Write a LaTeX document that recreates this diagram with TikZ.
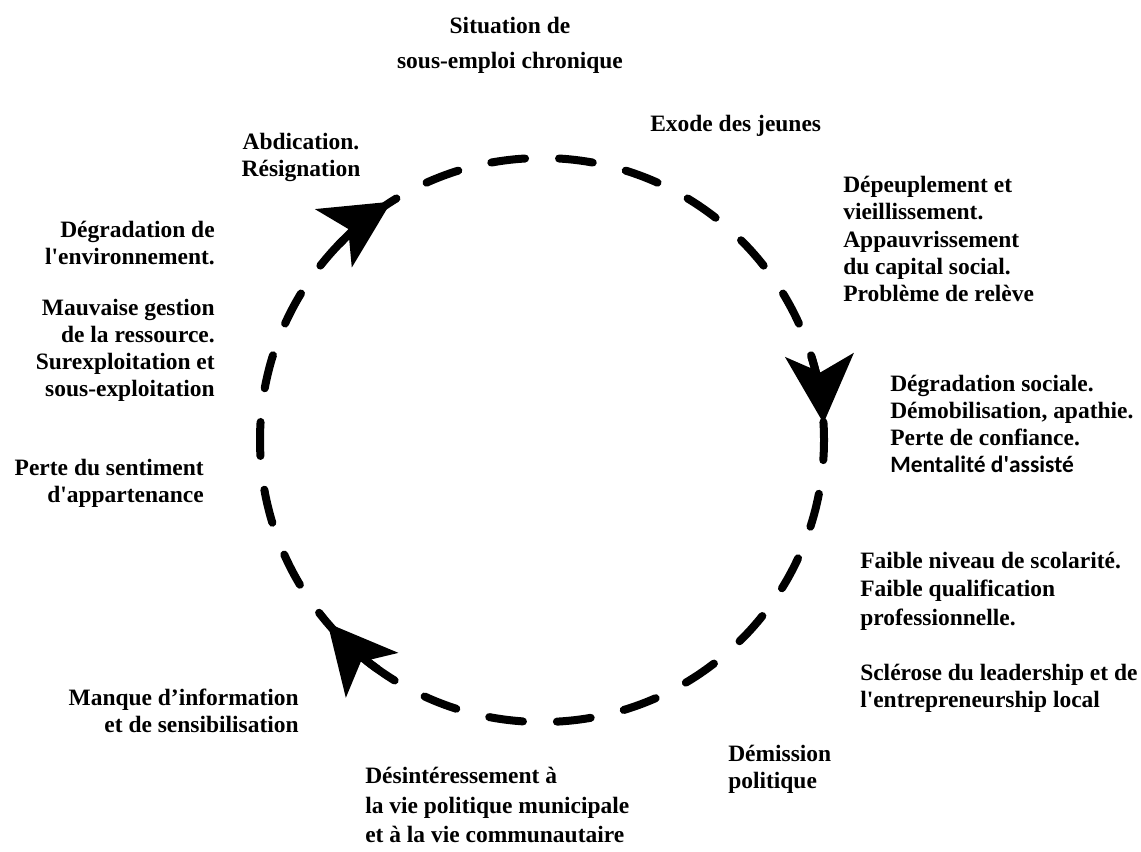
\documentclass[tikz,border=0pt]{standalone}
\usepackage{fontspec}
\setmainfont{Liberation Serif}
\newfontfamily\altsans{Carlito}
\usetikzlibrary{arrows.meta}
\newcommand{\apos}{\textquotesingle}

\begin{document}
\begin{tikzpicture}[
  x=0.75pt,y=0.75pt,
  font=\fontsize{17.6}{20.3}\selectfont\bfseries,
  lbl/.style={inner sep=0pt},
  lleft/.style={lbl,anchor=west,align=left},
  lright/.style={lbl,anchor=east,align=right},
  loopline/.style={line width=6pt,line cap=round,
    dash pattern=on 25.5pt off 25.5pt,dash phase=12pt},
  flowhead/.style={line width=6pt,
    -{Stealth[length=51pt,width=51pt,inset=12.75pt]}}]
\useasboundingbox (0,0) rectangle (1141,-851);
\coordinate (c) at (542,-440);
\draw[loopline] (c) circle[radius=282];
\draw[flowhead] ([shift={(136.1:282)}]c) arc[start angle=136.1,end angle=122.3,radius=282];
\draw[flowhead] ([shift={(17.2:282)}]c) arc[start angle=17.2,end angle=3.4,radius=282];
\draw[flowhead] ([shift={(234.3:282)}]c) arc[start angle=234.3,end angle=220.5,radius=282];
\node[lbl,align=center] (situation) at (510,-45) {Situation de\\[6pt]sous-emploi chronique};
\node[lleft] (exode) at (650,-126) {Exode des jeunes};
\node[lbl,align=center] (abdication) at (301,-157) {Abdication.\\Résignation};
\node[lleft] (depeuplement) at (843,-239) {Dépeuplement et\\vieillissement.\\Appauvrissement\\du capital social.\\Problème de relève};
\node[lright] (environnement) at (215,-243) {Dégradation de\\l\apos environnement.};
\node[lright] (gestion) at (215,-350) {Mauvaise gestion\\de la ressource.\\Surexploitation et\\sous-exploitation};
\node[lleft] (social) at (890,-424) {Dégradation sociale.\\Démobilisation, apathie.\\Perte de confiance.\\{\altsans Mentalité d\apos assisté}};
\node[lright] (appartenance) at (204,-483) {Perte du sentiment\\d\apos appartenance};
\node[lleft] (scolarite) at (860,-591) {Faible niveau de scolarité.\\[1pt]Faible qualification\\[1pt]professionnelle.};
\node[lleft] (sclerose) at (860,-688) {Sclérose du leadership et de\\l\apos entrepreneurship local};
\node[lright] (information) at (299,-711) {Manque d’information\\et de sensibilisation};
\node[lleft] (demission) at (728,-769) {Démission\\politique};
\node[lleft] (desinteret) at (365,-805) {Désintéressement à\\[2pt]la vie politique municipale\\[2pt]et à la vie communautaire};
\end{tikzpicture}
\end{document}
